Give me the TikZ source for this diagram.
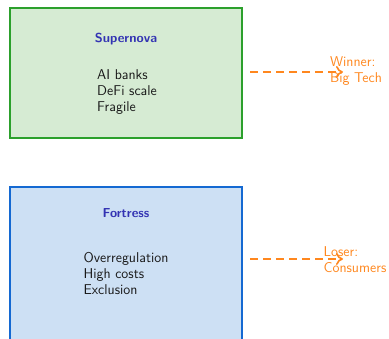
\documentclass[tikz,border=0pt]{standalone}
\usetikzlibrary{arrows.meta}
\definecolor{gborder}{RGB}{44,160,44}
\definecolor{gfill}{RGB}{214,235,211}
\definecolor{bborder}{RGB}{20,105,210}
\definecolor{bfill}{RGB}{205,224,244}
\definecolor{ttl}{RGB}{51,51,179}
\definecolor{org}{RGB}{255,135,30}
\begin{document}
\begin{tikzpicture}[x=1pt,y=-1pt,
  every node/.style={font=\sffamily\fontsize{14.2}{16}\selectfont, inner sep=0pt},
  scen/.style={line width=2pt},
  ttlnode/.style={text=ttl, font=\sffamily\bfseries\fontsize{13}{16}\selectfont},
  listnode/.style={align=left, text=black!90},
  outarrow/.style={draw=org, line width=1.8pt, dash pattern=on 8pt off 5pt, -{>[length=7pt,width=12pt,line width=1.6pt]}},
  outlabel/.style={align=left, text=org}]
\useasboundingbox (0,0) rectangle (389,339);
\begin{scope}
\clip (0,0) rectangle (389,339);
\draw[scen, draw=gborder, fill=gfill] (10,8) rectangle (242,138);
\draw[scen, draw=bborder, fill=bfill] (10,187) rectangle (242,350);
\end{scope}
\node[ttlnode] (t1) at (126,39) {Supernova};
\node[listnode] (l1) at (127,92) {AI banks\\DeFi scale\\Fragile};
\node[ttlnode] (t2) at (126,213) {Fortress};
\node[listnode] (l2) at (126,273) {Overregulation\\High costs\\Exclusion};
\coordinate (a1s) at (250,72);
\coordinate (a1e) at (343,72);
\coordinate (a2s) at (250,259);
\coordinate (a2e) at (343,259);
\draw[outarrow] (a1s) -- (a1e);
\draw[outarrow] (a2s) -- (a2e);
\node[outlabel] (w) at (356,71) {Winner:\\Big Tech};
\node[outlabel] (lo) at (355,260) {Loser:\\Consumers};
\end{tikzpicture}
\end{document}
